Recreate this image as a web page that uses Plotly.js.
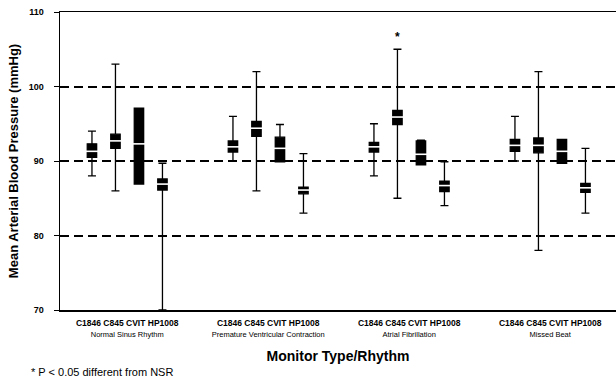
<!DOCTYPE html>
<html>
<head>
<meta charset="utf-8">
<script src="https://cdn.plot.ly/plotly-3.0.1.min.js"></script>
<style>html,body{margin:0;padding:0;background:#fff;}#chart{width:616px;height:381px;}</style>
</head>
<body>
<div id="chart"></div>
<script>
// ---- data ----
const rhythms = ["Normal Sinus Rhythm", "Premature Ventricular Contraction", "Atrial Fibrillation", "Missed Beat"];
const monitors = ["C1846", "C845", "CVIT", "HP1008"];
const monitorLabel = "C1846 C845 CVIT HP1008";

// per monitor, one value per rhythm
const upperC1846 = [94, 96, 95, 96];
const q3C1846    = [92.3, 92.7, 92.5, 92.9];
const medC1846   = [91.3, 91.9, 91.9, 92.1];
const q1C1846    = [90.5, 91.2, 91.2, 91.3];
const lowerC1846 = [88, 90, 88, 90];

const upperC845 = [103, 102, 105, 102];
const q3C845    = [93.6, 95.3, 96.8, 93.1];
const medC845   = [92.7, 94.4, 95.9, 92.1];
const q1C845    = [91.7, 93.3, 94.9, 91.1];
const lowerC845 = [86, 86, 85, 78];

const upperCVIT = [97.1, 94.9, 92.8, 92.9];
const q3CVIT    = [97.1, 93.2, 92.7, 92.9];
const medCVIT   = [92.3, 91.7, 90.9, 91.3];
const q1CVIT    = [86.9, 89.9, 89.5, 89.7];
const lowerCVIT = [86.9, 89.9, 89.5, 89.7];

const upperHP1008 = [89.7, 91, 89.9, 91.7];
const q3HP1008    = [87.6, 86.5, 87.3, 87];
const medHP1008   = [86.9, 86.1, 86.7, 86.4];
const q1HP1008    = [86.1, 85.6, 85.9, 85.8];
const lowerHP1008 = [70, 83, 84, 83];

// significance marks (rhythm index, monitor index)
const significant = [[2, 1]];

// ---- build ----
const stats = {
  C1846: [upperC1846, q3C1846, medC1846, q1C1846, lowerC1846],
  C845: [upperC845, q3C845, medC845, q1C845, lowerC845],
  CVIT: [upperCVIT, q3CVIT, medCVIT, q1CVIT, lowerCVIT],
  HP1008: [upperHP1008, q3HP1008, medHP1008, q1HP1008, lowerHP1008]
};
const groupGap = 6;
const pos = (g, m) => g * groupGap + m;

const traces = [];
monitors.forEach((mon, m) => {
  const [up, q3, med, q1, lo] = stats[mon];
  const xs = rhythms.map((r, g) => pos(g, m));
  traces.push({
    type: 'box', x: xs, q1: q1, median: med, q3: q3,
    lowerfence: lo, upperfence: up,
    width: 0.4, whiskerwidth: 0.85,
    fillcolor: '#000', line: {color: '#000', width: 1.3},
    showlegend: false, hoverinfo: 'skip', boxpoints: false
  });
});
monitors.forEach((mon, m) => {
  const med = stats[mon][2];
  traces.push({
    type: 'scatter', mode: 'markers',
    x: rhythms.map((r, g) => pos(g, m)), y: med,
    marker: {symbol: 'line-ew-open', size: 10, color: '#fff', line: {color: '#fff', width: 1.6}},
    showlegend: false, hoverinfo: 'skip', cliponaxis: false
  });
});

const annotations = significant.map(([g, m]) => ({
  x: pos(g, m), y: stats[monitors[m]][0][g], xref: 'x', yref: 'y',
  text: '<b>*</b>', showarrow: false, yshift: 12,
  font: {family: 'Liberation Sans, Arial, sans-serif', size: 12, color: '#000'}
}));
annotations.push({
  xref: 'paper', yref: 'paper', x: -0.055, y: -0.208, xanchor: 'left', yanchor: 'middle',
  text: '* P < 0.05 different from NSR', showarrow: false,
  font: {family: 'Liberation Sans, Arial, sans-serif', size: 11, color: '#000'}
});

const layout = {
  width: 616, height: 381,
  margin: {l: 60, r: 0, t: 12, b: 71},
  paper_bgcolor: '#fff', plot_bgcolor: '#fff',
  font: {family: 'Liberation Sans, Arial, sans-serif', color: '#000'},
  xaxis: {
    range: [-1.36, 22.3], showgrid: false, zeroline: false,
    showline: true, linecolor: '#000', linewidth: 1.5, mirror: true,
    tickmode: 'array',
    tickvals: rhythms.map((r, g) => pos(g, 1.5)),
    ticktext: rhythms.map(r => '<b>' + monitorLabel + '</b><br><span style="font-size:7.5px;fill:#000;color:#000">' + r + '</span>'),
    ticks: '', ticklabelstandoff: 4,
    tickfont: {family: 'Liberation Sans, Arial, sans-serif', size: 8.5, color: '#000'},
    title: {text: '<b>Monitor Type/Rhythm</b>', font: {size: 14, color: '#000'}, standoff: 13},
    automargin: false
  },
  yaxis: {
    range: [70, 110], tickvals: [70, 80, 90, 100, 110],
    ticktext: ['<b>70</b>', '<b>80</b>', '<b>90</b>', '<b>100</b>', '<b>110</b>'],
    showgrid: true, gridcolor: '#000', gridwidth: 2, griddash: '9px,5px',
    zeroline: false, showline: true, linecolor: '#000', linewidth: 1.5, mirror: false,
    ticks: 'outside', ticklen: 5, tickcolor: '#000', tickwidth: 1, ticklabelstandoff: 8,
    tickfont: {size: 9, color: '#000'},
    title: {text: '<b>Mean Arterial Blood Pressure (mmHg)</b>', font: {size: 13, color: '#000'}, standoff: 7},
    automargin: false
  },
  annotations: annotations,
  showlegend: false
};

Plotly.newPlot('chart', traces, layout, {staticPlot: true, displayModeBar: false});
</script>
</body>
</html>
